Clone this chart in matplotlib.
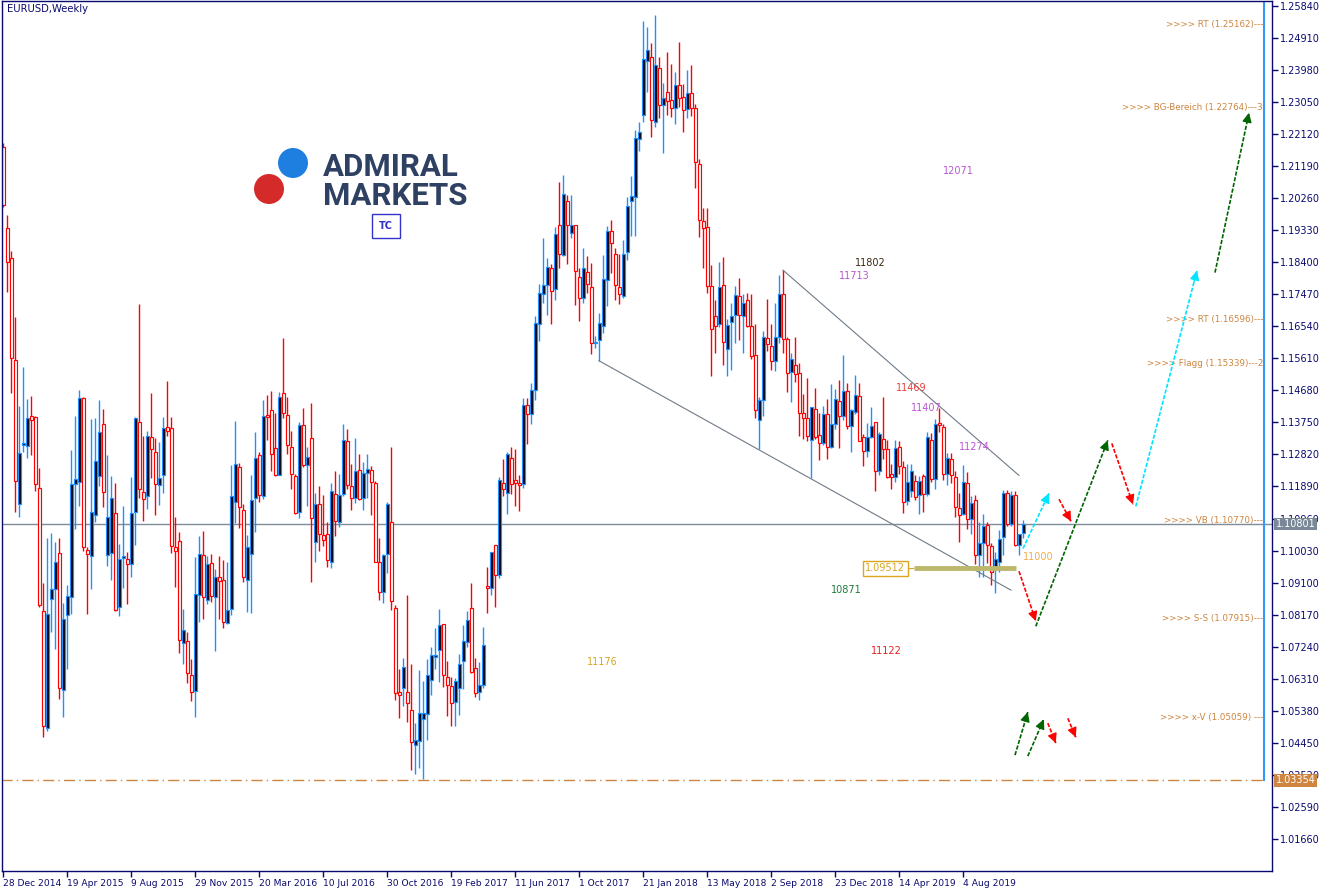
import matplotlib.pyplot as plt
import matplotlib.patches as mpatches
import numpy as np

# weekly EURUSD candles, first bar = week of 28 Dec 2014
opens = [
    1.2175, 1.1938, 1.1853, 1.1557, 1.1139, 1.1310, 1.1306, 1.1394, 1.1392, 1.1185,
    1.0827, 1.0488, 1.0861, 1.0890, 1.0996, 1.0597, 1.0817, 1.0867, 1.1197, 1.1202,
    1.1447, 1.1006, 1.0986, 1.1107, 1.1219, 1.1371, 1.0991, 1.0996, 1.1112, 1.0838,
    1.0980, 1.0978, 1.0965, 1.1115, 1.1376, 1.1174, 1.1161, 1.1333, 1.1288, 1.1193,
    1.1223, 1.1363, 1.1359, 1.1014, 1.1032, 1.0734, 1.0739, 1.0641, 1.0594, 1.0873,
    1.0989, 1.0860, 1.0968, 1.0868, 1.0926, 1.0918, 1.0792, 1.0834, 1.1144, 1.1245,
    1.1122, 1.0918, 1.0994, 1.1156, 1.1281, 1.1161, 1.1397, 1.1411, 1.1301, 1.1223,
    1.1461, 1.1397, 1.1305, 1.1219, 1.1115, 1.1368, 1.1250, 1.1330, 1.1029, 1.1137,
    1.1047, 1.1052, 1.0971, 1.1168, 1.1087, 1.1168, 1.1320, 1.1189, 1.1156, 1.1236,
    1.1156, 1.1229, 1.1237, 1.1199, 1.0969, 1.0883, 1.0992, 1.1087, 1.0837, 1.0591,
    1.0605, 1.0591, 1.0539, 1.0438, 1.0450, 1.0515, 1.0529, 1.0628, 1.0694, 1.0715,
    1.0789, 1.0636, 1.0609, 1.0562, 1.0605, 1.0682, 1.0737, 1.0837, 1.0663, 1.0591,
    1.0612, 1.0899, 1.0895, 1.1018, 1.0933, 1.1200, 1.1171, 1.1272, 1.1208, 1.1200,
    1.1195, 1.1425, 1.1400, 1.1470, 1.1662, 1.1749, 1.1774, 1.1822, 1.1762, 1.1949,
    1.1861, 1.2018, 1.1925, 1.1948, 1.1798, 1.1736, 1.1812, 1.1769, 1.1605, 1.1614,
    1.1654, 1.1788, 1.1931, 1.1864, 1.1769, 1.1743, 1.1870, 1.2018, 1.2028, 1.2197,
    1.2267, 1.2424, 1.2436, 1.2248, 1.2403, 1.2296, 1.2335, 1.2311, 1.2289, 1.2354,
    1.2321, 1.2284, 1.2331, 1.2288, 1.2125, 1.1960, 1.1943, 1.1770, 1.1683, 1.1661,
    1.1774, 1.1588, 1.1667, 1.1688, 1.1743, 1.1685, 1.1731, 1.1656, 1.1571, 1.1382,
    1.1440, 1.1620, 1.1596, 1.1554, 1.1624, 1.1748, 1.1617, 1.1520, 1.1542, 1.1518,
    1.1403, 1.1388, 1.1325, 1.1414, 1.1338, 1.1316, 1.1398, 1.1305, 1.1370, 1.1438,
    1.1395, 1.1467, 1.1365, 1.1405, 1.1453, 1.1334, 1.1293, 1.1332, 1.1376, 1.1235,
    1.1327, 1.1298, 1.1225, 1.1216, 1.1303, 1.1245, 1.1148, 1.1176, 1.1206, 1.1163,
    1.1218, 1.1168, 1.1324, 1.1211, 1.1372, 1.1363, 1.1226, 1.1269, 1.1216, 1.1127,
    1.1110, 1.1200, 1.1095, 1.1150, 1.0991, 1.1026, 1.1076, 1.1015, 1.0955, 1.0970,
    1.1043, 1.1171, 1.1080, 1.1165, 1.1020, 1.1055,
]
highs = [
    1.2185, 1.1977, 1.1873, 1.1682, 1.1423, 1.1537, 1.1444, 1.1452, 1.1394, 1.1244,
    1.0908, 1.1040, 1.1055, 1.1029, 1.1040, 1.0850, 1.0902, 1.1294, 1.1395, 1.1470,
    1.1449, 1.1012, 1.1385, 1.1389, 1.1439, 1.1413, 1.1281, 1.1218, 1.1200, 1.1021,
    1.1131, 1.0998, 1.1216, 1.1390, 1.1718, 1.1335, 1.1350, 1.1461, 1.1330, 1.1319,
    1.1390, 1.1495, 1.1390, 1.1100, 1.1056, 1.0832, 1.0766, 1.0689, 1.0984, 1.1044,
    1.1061, 1.0986, 1.0994, 1.0948, 1.0986, 1.0976, 1.0969, 1.1250, 1.1380, 1.1257,
    1.1139, 1.1047, 1.1221, 1.1347, 1.1289, 1.1441, 1.1456, 1.1467, 1.1402, 1.1463,
    1.1619, 1.1450, 1.1351, 1.1226, 1.1376, 1.1417, 1.1305, 1.1431, 1.1171, 1.1189,
    1.1165, 1.1087, 1.1200, 1.1235, 1.1224, 1.1369, 1.1356, 1.1255, 1.1329, 1.1284,
    1.1260, 1.1282, 1.1247, 1.1205, 1.1040, 1.0994, 1.1144, 1.1303, 1.0844, 1.0660,
    1.0692, 1.0875, 1.0673, 1.0501, 1.0655, 1.0623, 1.0687, 1.0723, 1.0778, 1.0832,
    1.0791, 1.0681, 1.0636, 1.0633, 1.0702, 1.0786, 1.0827, 1.0909, 1.0691, 1.0679,
    1.0781, 1.0955, 1.1000, 1.1020, 1.1216, 1.1269, 1.1289, 1.1303, 1.1298, 1.1223,
    1.1445, 1.1446, 1.1490, 1.1685, 1.1778, 1.1910, 1.1851, 1.1836, 1.1943, 1.2073,
    1.2094, 1.2035, 1.2036, 1.1949, 1.1822, 1.1881, 1.1859, 1.1837, 1.1625, 1.1694,
    1.1862, 1.1946, 1.1963, 1.1880, 1.1864, 1.1904, 1.2028, 1.2091, 1.2223, 1.2246,
    1.2540, 1.2523, 1.2476, 1.2558, 1.2436, 1.2359, 1.2449, 1.2417, 1.2391, 1.2480,
    1.2357, 1.2398, 1.2414, 1.2299, 1.2139, 1.1997, 1.1997, 1.1833, 1.1730, 1.1841,
    1.1854, 1.1675, 1.1723, 1.1770, 1.1793, 1.1748, 1.1751, 1.1748, 1.1661, 1.1448,
    1.1641, 1.1733, 1.1661, 1.1723, 1.1804, 1.1817, 1.1624, 1.1577, 1.1624, 1.1548,
    1.1458, 1.1503, 1.1421, 1.1474, 1.1402, 1.1422, 1.1442, 1.1486, 1.1473, 1.1497,
    1.1572, 1.1490, 1.1415, 1.1514, 1.1488, 1.1342, 1.1372, 1.1420, 1.1377, 1.1346,
    1.1450, 1.1325, 1.1255, 1.1324, 1.1320, 1.1264, 1.1255, 1.1255, 1.1222, 1.1218,
    1.1226, 1.1348, 1.1345, 1.1385, 1.1416, 1.1371, 1.1287, 1.1286, 1.1233, 1.1170,
    1.1250, 1.1230, 1.1162, 1.1165, 1.1085, 1.1109, 1.1085, 1.1025, 1.0999, 1.1063,
    1.1179, 1.1179, 1.1176, 1.1175, 1.1052, 1.1092,
]
lows = [
    1.2000, 1.1754, 1.1459, 1.1114, 1.1099, 1.1288, 1.1273, 1.1280, 1.1177, 1.0840,
    1.0463, 1.0480, 1.0767, 1.0716, 1.0571, 1.0520, 1.0660, 1.0819, 1.1066, 1.1131,
    1.1001, 1.0819, 1.0890, 1.1086, 1.1190, 1.1130, 1.0957, 1.0918, 1.0827, 1.0812,
    1.0895, 1.0848, 1.0926, 1.1019, 1.1156, 1.1088, 1.1123, 1.1213, 1.1105, 1.1135,
    1.1171, 1.1335, 1.0996, 1.0897, 1.0705, 1.0674, 1.0618, 1.0566, 1.0520, 1.0795,
    1.0805, 1.0849, 1.0853, 1.0711, 1.0805, 1.0778, 1.0789, 1.0815, 1.1084, 1.1068,
    1.0911, 1.0826, 1.0822, 1.1058, 1.1144, 1.1153, 1.1325, 1.1233, 1.1218, 1.1221,
    1.1388, 1.1284, 1.1182, 1.1110, 1.1097, 1.1245, 1.1132, 1.0911, 1.0971, 1.1003,
    1.1016, 1.0955, 1.0952, 1.1045, 1.1071, 1.1160, 1.1182, 1.1122, 1.1141, 1.1150,
    1.1122, 1.1156, 1.1107, 1.0969, 1.0858, 1.0851, 1.0938, 1.0829, 1.0568, 1.0517,
    1.0551, 1.0505, 1.0367, 1.0353, 1.0373, 1.0341, 1.0454, 1.0583, 1.0660, 1.0621,
    1.0607, 1.0523, 1.0494, 1.0494, 1.0525, 1.0600, 1.0723, 1.0648, 1.0578, 1.0568,
    1.0605, 1.0822, 1.0873, 1.0839, 1.0924, 1.1161, 1.1110, 1.1168, 1.1132, 1.1119,
    1.1185, 1.1313, 1.1371, 1.1441, 1.1612, 1.1723, 1.1688, 1.1662, 1.1731, 1.1822,
    1.1859, 1.1836, 1.1910, 1.1717, 1.1668, 1.1721, 1.1752, 1.1575, 1.1590, 1.1554,
    1.1636, 1.1712, 1.1810, 1.1730, 1.1719, 1.1736, 1.1846, 1.1915, 1.1915, 1.2163,
    1.2246, 1.2335, 1.2205, 1.2234, 1.2258, 1.2157, 1.2268, 1.2262, 1.2241, 1.2291,
    1.2217, 1.2260, 1.2265, 1.2057, 1.1912, 1.1822, 1.1750, 1.1509, 1.1576, 1.1653,
    1.1543, 1.1509, 1.1527, 1.1607, 1.1614, 1.1577, 1.1653, 1.1559, 1.1387, 1.1298,
    1.1395, 1.1583, 1.1527, 1.1525, 1.1607, 1.1576, 1.1462, 1.1433, 1.1491, 1.1337,
    1.1327, 1.1320, 1.1214, 1.1327, 1.1267, 1.1310, 1.1269, 1.1300, 1.1355, 1.1300,
    1.1383, 1.1357, 1.1289, 1.1400, 1.1322, 1.1249, 1.1276, 1.1330, 1.1177, 1.1222,
    1.1268, 1.1215, 1.1183, 1.1203, 1.1226, 1.1113, 1.1135, 1.1158, 1.1150, 1.1110,
    1.1115, 1.1160, 1.1202, 1.1181, 1.1346, 1.1207, 1.1193, 1.1200, 1.1101, 1.1029,
    1.1107, 1.1066, 1.1052, 1.0963, 1.0926, 1.0927, 1.0967, 1.0904, 1.0879, 1.0941,
    1.0990, 1.1073, 1.1073, 1.1015, 1.0989, 1.1040,
]
closes = [
    1.2005, 1.1840, 1.1563, 1.1205, 1.1286, 1.1316, 1.1387, 1.1383, 1.1197, 1.0845,
    1.0495, 1.0819, 1.0892, 1.0970, 1.0605, 1.0805, 1.0871, 1.1197, 1.1211, 1.1446,
    1.1012, 1.0993, 1.1114, 1.1262, 1.1347, 1.1172, 1.1101, 1.1156, 1.0831, 1.0978,
    1.0986, 1.0964, 1.1112, 1.1387, 1.1183, 1.1154, 1.1337, 1.1299, 1.1195, 1.1213,
    1.1359, 1.1350, 1.1017, 1.1001, 1.0744, 1.0771, 1.0647, 1.0592, 1.0878, 1.0994,
    1.0868, 1.0965, 1.0871, 1.0926, 1.0914, 1.0795, 1.0831, 1.1160, 1.1255, 1.1129,
    1.0926, 1.1013, 1.1150, 1.1272, 1.1165, 1.1395, 1.1392, 1.1284, 1.1221, 1.1450,
    1.1403, 1.1310, 1.1226, 1.1112, 1.1368, 1.1250, 1.1274, 1.1097, 1.1139, 1.1052,
    1.1034, 1.0976, 1.1175, 1.1088, 1.1165, 1.1325, 1.1194, 1.1156, 1.1233, 1.1153,
    1.1229, 1.1240, 1.1202, 1.0971, 1.0883, 1.0989, 1.1139, 1.0856, 1.0588, 1.0585,
    1.0665, 1.0559, 1.0447, 1.0452, 1.0532, 1.0532, 1.0643, 1.0701, 1.0699, 1.0788,
    1.0643, 1.0614, 1.0561, 1.0623, 1.0675, 1.0739, 1.0800, 1.0650, 1.0589, 1.0612,
    1.0728, 1.0894, 1.0998, 1.0933, 1.1208, 1.1182, 1.1284, 1.1197, 1.1198, 1.1193,
    1.1426, 1.1399, 1.1470, 1.1665, 1.1750, 1.1774, 1.1825, 1.1757, 1.1922, 1.1864,
    1.2038, 1.1948, 1.1948, 1.1815, 1.1736, 1.1822, 1.1778, 1.1607, 1.1609, 1.1665,
    1.1791, 1.1931, 1.1897, 1.1774, 1.1749, 1.1864, 1.2002, 1.2031, 1.2200, 1.2217,
    1.2429, 1.2455, 1.2252, 1.2412, 1.2296, 1.2318, 1.2307, 1.2289, 1.2354, 1.2318,
    1.2281, 1.2331, 1.2289, 1.2130, 1.1962, 1.1939, 1.1770, 1.1646, 1.1656, 1.1769,
    1.1609, 1.1659, 1.1683, 1.1745, 1.1687, 1.1721, 1.1654, 1.1567, 1.1411, 1.1440,
    1.1624, 1.1603, 1.1554, 1.1622, 1.1748, 1.1617, 1.1518, 1.1559, 1.1516, 1.1402,
    1.1388, 1.1337, 1.1419, 1.1332, 1.1316, 1.1400, 1.1305, 1.1370, 1.1442, 1.1395,
    1.1467, 1.1365, 1.1410, 1.1456, 1.1322, 1.1293, 1.1332, 1.1366, 1.1233, 1.1342,
    1.1298, 1.1216, 1.1216, 1.1301, 1.1247, 1.1144, 1.1202, 1.1235, 1.1158, 1.1206,
    1.1168, 1.1332, 1.1211, 1.1370, 1.1368, 1.1226, 1.1271, 1.1221, 1.1129, 1.1107,
    1.1202, 1.1095, 1.1142, 1.0989, 1.1026, 1.1074, 1.1020, 1.0940, 1.0979, 1.1037,
    1.1171, 1.1080, 1.1165, 1.1020, 1.1050, 1.1080,
]

date_ticks = [0, 16, 32, 48, 64, 80, 96, 112, 128, 144, 160, 176, 192, 208, 224, 240]
date_labels = ["28 Dec 2014", "19 Apr 2015", "9 Aug 2015", "29 Nov 2015", "20 Mar 2016",
               "10 Jul 2016", "30 Oct 2016", "19 Feb 2017", "11 Jun 2017", "1 Oct 2017",
               "21 Jan 2018", "13 May 2018", "2 Sep 2018", "23 Dec 2018", "14 Apr 2019",
               "4 Aug 2019"]
price_ticks = [1.25840, 1.24910, 1.23980, 1.23050, 1.22120, 1.21190, 1.20260, 1.19330,
               1.18400, 1.17470, 1.16540, 1.15610, 1.14680, 1.13750, 1.12820, 1.11890,
               1.10960, 1.10030, 1.09100, 1.08170, 1.07240, 1.06310, 1.05380, 1.04450,
               1.03520, 1.02590, 1.01660]

last_price = 1.10801
low_level = 1.03354
support = 1.09512

# levels written on the right
level_names = ["RT", "BG-Bereich", "RT", "Flagg", "VB", "S-S", "x-V"]
level_values = [1.25162, 1.22764, 1.16596, 1.15339, 1.10770, 1.07915, 1.05059]
level_tails = ["---", "---3", "---", "---2", "---", "---", " ---"]

# analyst numbers (text, bar, price, colour)
notes = [("12071", 238.8, 1.2105, "#BA55D3"), ("11802", 216.8, 1.1839, "#3a2a10"),
         ("11713", 212.8, 1.1801, "#BA55D3"), ("11469", 227.0, 1.1476, "#E8403A"),
         ("11407", 230.8, 1.1418, "#BA55D3"), ("11274", 242.8, 1.1305, "#BA55D3"),
         ("11000", 258.8, 1.0983, "#EFB04A"), ("10871", 210.8, 1.0888, "#1f7a3a"),
         ("11122", 220.8, 1.0710, "#E02020"), ("11176", 149.8, 1.0679, "#DAA520")]

# scenario arrows: (bar0, price0, bar1, price1, colour)
arrows = [(255.0, 1.1009, 261.5, 1.1169, "#00E5FF"),
          (264.0, 1.1152, 267.0, 1.1088, "#FF0000"),
          (254.0, 1.0943, 258.2, 1.0798, "#FF0000"),
          (258.2, 1.0783, 276.2, 1.1323, "#006400"),
          (277.2, 1.1314, 282.5, 1.1137, "#FF0000"),
          (283.2, 1.1131, 298.5, 1.1816, "#00E5FF"),
          (303.0, 1.1810, 311.5, 1.2274, "#006400"),
          (253.0, 1.0409, 256.2, 1.0534, "#006400"),
          (256.2, 1.0406, 260.2, 1.0513, "#006400"),
          (261.2, 1.0502, 263.2, 1.0444, "#FF0000"),
          (266.2, 1.0516, 268.2, 1.0461, "#FF0000")]

# channel lines: (bar0, price0, bar1, price1)
channel = [(195, 1.1817, 254, 1.1221), (149, 1.1554, 252, 1.0888)]

navy = "#0a0a6e"
up_col = "#1E90FF"
dn_col = "#FF0000"

fig = plt.figure(figsize=(13.24, 8.91), dpi=100)
fig.patch.set_facecolor("white")
ax = fig.add_axes([2 / 1324, 20 / 891, 1270 / 1324, 870 / 891])
ax.set_xlim(-0.25, 317.25)
ax.set_ylim(1.00726, 1.25985)

o = np.array(opens)
h = np.array(highs)
l = np.array(lows)
c = np.array(closes)
x = np.arange(len(o))
h = np.maximum(h, np.maximum(o, c))
l = np.minimum(l, np.minimum(o, c))
up = c >= o
wcol = np.where(up, up_col, dn_col)
ax.vlines(x, l, h, colors=wcol, lw=1, zorder=3)
bottom = np.minimum(o, c)
height = np.maximum(np.abs(c - o), 0.00010)
ax.bar(x, height, bottom=bottom, width=0.75, color=np.where(up, "black", "white"),
       edgecolor=wcol, linewidth=0.85, zorder=4)

# horizontal levels
ax.axhline(last_price, color="#7f8c99", lw=1, zorder=2)
ax.plot([-0.5, 315.3], [low_level, low_level], color="#CD853F", lw=1,
        ls=(0, (8, 3, 1, 3)), zorder=2)
ax.plot([315.3, 315.3], [low_level, 1.2598], color="#3399FF", lw=1.5, zorder=2)

for b0, p0, b1, p1 in channel:
    ax.plot([b0, b1], [p0, p1], color="#6f7b88", lw=0.8, zorder=6)

ax.plot([227.8, 253.2], [support, support], color="#BDB76B", lw=3.5,
        solid_capstyle="butt", zorder=6)
ax.plot([226.2, 227.6], [support, support], color="#DAA520", lw=0.8, zorder=6)
ax.text(220.6, support, "1.09512", color="#DAA520", fontsize=7, ha="center", va="center",
        zorder=7, bbox=dict(boxstyle="square,pad=0.25", fc="white", ec="#DAA520", lw=1))

for name, val, tail in zip(level_names, level_values, level_tails):
    ax.text(315.0, val, ">>>> %s (%.5f)%s" % (name, val, tail), color="#CD853F",
            fontsize=6.3, ha="right", va="bottom", zorder=7)

for txt, bx, py, col in notes:
    ax.text(bx, py, txt, color=col, fontsize=7, ha="center", va="center", zorder=7)

for b0, p0, b1, p1, col in arrows:
    ax.plot([b0, b1], [p0, p1], color=col, lw=1.2, ls=(0, (2.5, 1)), zorder=8)
    ax.annotate("", xy=(b1, p1), xytext=(b1 - (b1 - b0) * 0.05, p1 - (p1 - p0) * 0.05),
                arrowprops=dict(arrowstyle="-|>", color=col, lw=1, mutation_scale=14,
                                shrinkA=0, shrinkB=0), zorder=8)

# axes styling
for sp in ax.spines.values():
    sp.set_color(navy)
    sp.set_linewidth(1)
    sp.set_zorder(10)
ax.yaxis.tick_right()
ax.set_yticks(price_ticks)
ax.set_yticklabels(["%.5f" % v for v in price_ticks])
ax.tick_params(axis="y", colors=navy, labelsize=7, length=4, width=1, pad=2)
ax.set_xticks(date_ticks)
ax.set_xticklabels(date_labels, ha="left")
ax.tick_params(axis="x", colors=navy, labelsize=6.6, length=4, width=1, pad=2)

ytr = ax.get_yaxis_transform()
ax.text(1.003, last_price, "1.10801", transform=ytr, color="white", fontsize=7,
        ha="left", va="center", zorder=9, clip_on=False,
        bbox=dict(boxstyle="square,pad=0.15", fc="#7a8796", ec="none"))
ax.text(1.003, low_level, "1.03354", transform=ytr, color="white", fontsize=7,
        ha="left", va="center", zorder=9, clip_on=False,
        bbox=dict(boxstyle="square,pad=0.15", fc="#CD853F", ec="none"))

ax.text(0.004, 0.996, "EURUSD,Weekly", transform=ax.transAxes, color=navy,
        fontsize=7.2, ha="left", va="top")

# logo
W, H = 1324.0, 891.0
for cx, cy, col in [(293, 163, "#1E7FE0"), (269, 189, "#D42A2A")]:
    fig.patches.append(mpatches.Ellipse((cx / W, 1 - cy / H), 30 / W, 30 / H,
                                        transform=fig.transFigure, fc=col, ec="none"))
logo_font = ["Liberation Sans Narrow", "Roboto", "DejaVu Sans"]
fig.text(323 / W, 1 - 176 / H, "ADMIRAL", family=logo_font, weight="bold",
         fontsize=22.5, color="#2F4163", ha="left", va="baseline")
fig.text(323 / W, 1 - 205 / H, "MARKETS", family=logo_font, weight="bold",
         fontsize=22.5, color="#2F4163", ha="left", va="baseline")
fig.text(386 / W, 1 - 226 / H, "TC", color="#3030C0", fontsize=7, weight="bold",
         ha="center", va="center",
         bbox=dict(boxstyle="square,pad=0.7", fc="white", ec="#3333CC", lw=1))

fig.savefig("out.png", dpi=100)
